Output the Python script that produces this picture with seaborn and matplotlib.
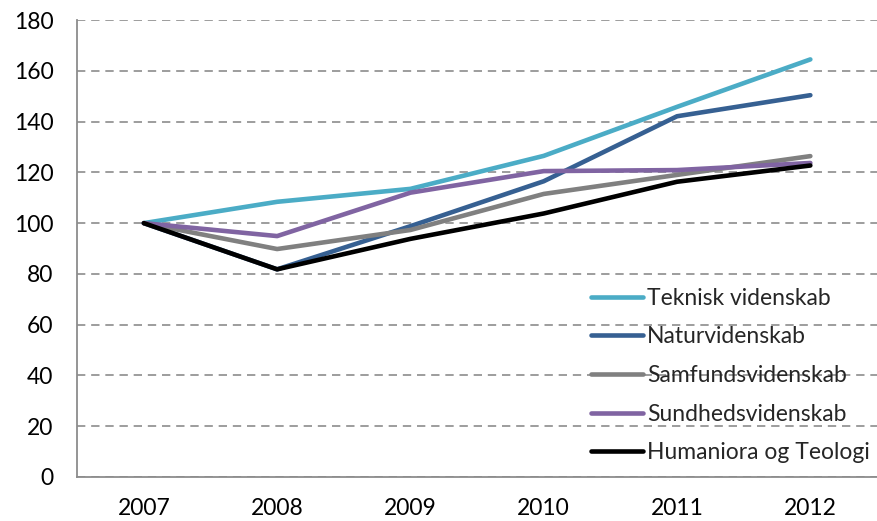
import matplotlib
matplotlib.use("Agg")
import matplotlib.pyplot as plt
import seaborn as sns
import pandas as pd

years = ["2007", "2008", "2009", "2010", "2011", "2012"]
teknisk = [100, 108.4, 113.5, 126.5, 145.8, 164.5]
natur = [100, 81.8, 98.8, 116.5, 142.1, 150.4]
samfund = [100, 89.8, 97.3, 111.5, 119.0, 126.4]
sundhed = [100, 94.9, 112.0, 120.5, 120.9, 123.7]
humaniora = [100, 81.8, 93.8, 103.8, 116.3, 122.7]

series = {
    "Teknisk videnskab": teknisk,
    "Naturvidenskab": natur,
    "Samfundsvidenskab": samfund,
    "Sundhedsvidenskab": sundhed,
    "Humaniora og Teologi": humaniora,
}
colors = ["#4BACC6", "#366092", "#808080", "#8064A2", "#000000"]

rows = []
for name, vals in series.items():
    for yr, v in zip(years, vals):
        rows.append({"year": yr, "value": v, "field": name})
df = pd.DataFrame(rows)

sns.set_style("white")
plt.rcParams["font.family"] = ["Lato", "DejaVu Sans"]

fig = plt.figure(figsize=(8.77, 5.21), dpi=100)
ax = fig.add_axes([0.088, 0.0845, 0.912, 0.877])

sns.lineplot(data=df, x="year", y="value", hue="field", palette=colors,
             linewidth=3.3, ax=ax, sort=False)
for line in ax.get_lines():
    line.set_solid_capstyle("round")
    line.set_solid_joinstyle("round")

ax.set_ylim(0, 180)
ax.set_yticks(range(0, 181, 20))
ax.set_xlim(-0.5, 5.5)
ax.set_xlabel("")
ax.set_ylabel("")
ax.tick_params(axis="both", length=0, labelsize=16.5, colors="#000000")
ax.tick_params(axis="x", pad=15)
ax.tick_params(axis="y", pad=17)

ax.yaxis.grid(True, color="#8c8c8c", linestyle=(0, (5, 3.5)), linewidth=1.2)
ax.set_axisbelow(True)
for s in ["top", "right"]:
    ax.spines[s].set_visible(False)
for s in ["left", "bottom"]:
    ax.spines[s].set_color("#8c8c8c")
    ax.spines[s].set_linewidth(1.3)

leg = ax.legend(loc="lower right", frameon=False, fontsize=16.5,
                handlelength=2.3, handletextpad=0.15, labelspacing=0.77,
                borderaxespad=0.2, bbox_to_anchor=(1.008, 0.0))
for h in leg.get_lines():
    h.set_linewidth(3.3)

fig.savefig("out.png", dpi=100)
